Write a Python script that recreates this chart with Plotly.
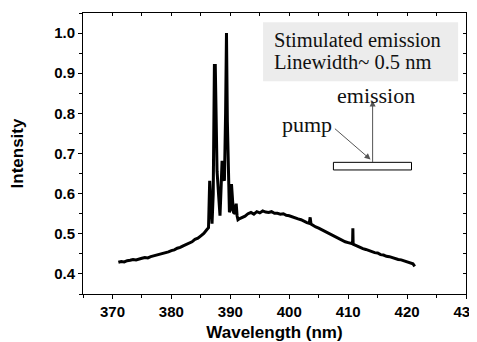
import plotly.graph_objects as go

# Emission spectrum
wavelength = [
    371.0, 371.5, 372.0, 372.5, 373.0, 373.5, 374.0, 374.5, 375.0, 375.5,
    376.0, 376.5, 377.0, 377.5, 378.0, 378.5, 379.0, 379.5, 380.0, 380.5,
    381.0, 381.5, 382.0, 382.5, 383.0, 383.5, 384.0, 384.5, 385.0, 385.5,
    386.0, 386.3, 386.5, 386.7, 386.9, 387.1, 387.3, 387.45, 387.6, 387.75,
    388.0, 388.25, 388.45, 388.6, 388.8, 389.0, 389.2, 389.35, 389.5, 389.7,
    389.85, 390.05, 390.2, 390.4, 390.55, 390.8, 391.0, 391.15, 391.3, 391.6,
    392.0, 392.5, 393.0, 393.5, 394.0, 394.5, 395.0, 395.5, 396.0, 396.5,
    397.0, 397.5, 398.0, 398.5, 399.0, 399.5, 400.0, 400.5, 401.0, 401.5,
    402.0, 402.5, 403.0, 403.4, 403.55, 403.7, 404.0, 404.5, 405.0, 405.5,
    406.0, 406.5, 407.0, 407.5, 408.0, 408.5, 409.0, 409.5, 410.0, 410.5,
    410.75, 410.8, 410.85, 411.0, 411.5, 412.0, 412.5, 413.0, 413.5, 414.0,
    414.5, 415.0, 415.5, 416.0, 416.5, 417.0, 417.5, 418.0, 418.5, 419.0,
    419.5, 420.0, 420.5, 421.0, 421.3,
]
intensity = [
    0.429, 0.431, 0.430, 0.433, 0.434, 0.436, 0.435, 0.438, 0.439, 0.441,
    0.440, 0.443, 0.445, 0.446, 0.449, 0.450, 0.453, 0.455, 0.458, 0.460,
    0.464, 0.466, 0.470, 0.473, 0.477, 0.480, 0.486, 0.489, 0.495, 0.501,
    0.510, 0.515, 0.632, 0.560, 0.525, 0.600, 0.919, 0.919, 0.700, 0.656,
    0.600, 0.545, 0.620, 0.682, 0.640, 0.632, 0.800, 1.000, 0.780, 0.600,
    0.554, 0.560, 0.624, 0.580, 0.553, 0.550, 0.575, 0.545, 0.535, 0.538,
    0.541, 0.544, 0.550, 0.553, 0.549, 0.555, 0.552, 0.557, 0.554, 0.553,
    0.555, 0.551, 0.551, 0.549, 0.550, 0.546, 0.545, 0.542, 0.540, 0.537,
    0.535, 0.531, 0.528, 0.526, 0.541, 0.524, 0.521, 0.517, 0.514, 0.510,
    0.507, 0.502, 0.499, 0.494, 0.491, 0.486, 0.484, 0.480, 0.478, 0.475,
    0.475, 0.514, 0.474, 0.473, 0.469, 0.467, 0.463, 0.461, 0.458, 0.456,
    0.453, 0.452, 0.448, 0.447, 0.444, 0.443, 0.440, 0.439, 0.436, 0.435,
    0.432, 0.431, 0.427, 0.425, 0.419,
]

x_ticks = [370, 380, 390, 400, 410, 420, 430]
y_ticks = [0.4, 0.5, 0.6, 0.7, 0.8, 0.9, 1.0]

box_lines = ["Stimulated emission", "Linewidth~ 0.5 nm"]

sans = "Liberation Sans, Arial"
bold = dict(family=sans, size=15, color="black", weight="bold")
title_font = dict(family=sans, size=17, color="black", weight="bold")
serif = "Liberation Serif, Times New Roman"

fig = go.Figure()
fig.add_trace(go.Scatter(
    x=wavelength, y=intensity, mode="lines",
    line=dict(color="black", width=3), showlegend=False,
))
# dummy trace for mirrored (inside-tick) axes
fig.add_trace(go.Scatter(x=[None], y=[None], xaxis="x2", yaxis="y2",
                         showlegend=False, hoverinfo="skip"))

fig.update_layout(
    width=469, height=334,
    margin=dict(l=75, r=11, t=5, b=48),
    paper_bgcolor="white", plot_bgcolor="white",
    xaxis=dict(
        range=[365, 430], tickvals=x_ticks, ticks="outside", ticklen=4,
        tickcolor="black", showline=True, linecolor="black", linewidth=1,
        mirror=True, showgrid=False, zeroline=False, tickfont=bold,
        ticklabeloverflow="allow", automargin=False,
        minor=dict(dtick=5, tick0=365, ticks="outside", ticklen=3, tickcolor="black"),
        title=dict(text="Wavelength (nm)", font=title_font, standoff=12),
    ),
    yaxis=dict(
        range=[0.35, 1.05], tickvals=y_ticks, tickformat=".1f", ticks="outside",
        ticklen=4, tickcolor="black", showline=True, linecolor="black",
        linewidth=1, mirror=True, showgrid=False, zeroline=False, tickfont=bold,
        ticklabeloverflow="allow", automargin=False,
        minor=dict(dtick=0.05, tick0=0.35, ticks="outside", ticklen=3, tickcolor="black"),
        title=dict(text="Intensity", font=title_font, standoff=26),
    ),
    xaxis2=dict(
        overlaying="x", side="top", range=[365, 430], dtick=5, tick0=365,
        ticks="inside", ticklen=3, tickcolor="black", showticklabels=False,
        showgrid=False, zeroline=False, showline=False, automargin=False,
    ),
    yaxis2=dict(
        overlaying="y", side="right", range=[0.35, 1.05], dtick=0.05, tick0=0.35,
        ticks="inside", ticklen=3, tickcolor="black", showticklabels=False,
        showgrid=False, zeroline=False, showline=False, automargin=False,
    ),
)

# grey legend-like box
fig.add_shape(type="rect", xref="x", yref="y", x0=395.56, x1=428.66, y0=0.880, y1=1.027,
              fillcolor="#ececec", line=dict(width=0), layer="below")
fig.add_annotation(x=397.0, y=0.983, xref="x", yref="y", text=box_lines[0],
                   showarrow=False, xanchor="left", yanchor="middle",
                   font=dict(family=serif, size=20.5, color="#111"))
fig.add_annotation(x=397.0, y=0.928, xref="x", yref="y", text=box_lines[1],
                   showarrow=False, xanchor="left", yanchor="middle",
                   font=dict(family=serif, size=20.5, color="#111"))

# sample schematic
fig.add_shape(type="rect", xref="x", yref="y", x0=407.5, x1=420.75, y0=0.659, y1=0.678,
              fillcolor="white", line=dict(color="black", width=1))
fig.add_annotation(x=414.15, y=0.832, ax=414.15, ay=0.675, xref="x", yref="y",
                   axref="x", ayref="y", text="", showarrow=True, arrowhead=2,
                   arrowsize=1.2, arrowwidth=1, arrowcolor="#555")
fig.add_annotation(x=413.8, y=0.685, ax=407.5, ay=0.765, xref="x", yref="y",
                   axref="x", ayref="y", text="", showarrow=True, arrowhead=2,
                   arrowsize=1.2, arrowwidth=1, arrowcolor="#555")
fig.add_annotation(x=414.7, y=0.845, xref="x", yref="y", text="emission",
                   showarrow=False, font=dict(family=serif, size=22, color="#111"))
fig.add_annotation(x=403.05, y=0.772, xref="x", yref="y", text="pump",
                   showarrow=False, font=dict(family=serif, size=22, color="#111"))

fig.write_html("out.html")
